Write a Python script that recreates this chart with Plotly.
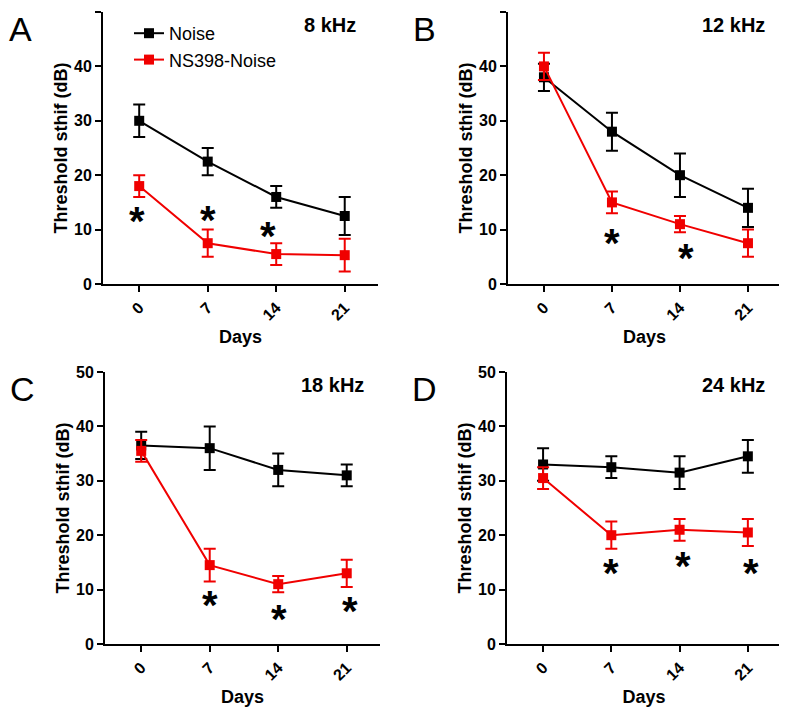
import plotly.graph_objects as go

days = [0, 7, 14, 21]
day_labels = ["0", "7", "14", "21"]
panel_letters = ["A", "B", "C", "D"]
freq_labels = ["8 kHz", "12 kHz", "18 kHz", "24 kHz"]
series_names = ["Noise", "NS398-Noise"]

# 8 kHz
noise_8 = [30, 22.5, 16, 12.5]
noise_8_err = [3, 2.5, 2, 3.5]
ns398_8 = [18, 7.5, 5.5, 5.3]
ns398_8_err = [2, 2.5, 2, 3]
star_8_x = [-0.2, 7.05, 13.2]
star_8_y = [13.0, 13.2, 10.3]

# 12 kHz
noise_12 = [38, 28, 20, 14]
noise_12_err = [2.5, 3.5, 4, 3.5]
ns398_12 = [40, 15, 11, 7.5]
ns398_12_err = [2.5, 2, 1.5, 2.5]
star_12_x = [7.0, 14.6]
star_12_y = [9.0, 6.2]

# 18 kHz
noise_18 = [36.5, 36, 32, 31]
noise_18_err = [2.5, 4, 3, 2]
ns398_18 = [35.5, 14.5, 11, 13]
ns398_18_err = [2, 3, 1.5, 2.5]
star_18_x = [7.0, 14.1, 21.3]
star_18_y = [8.7, 6.1, 7.5]

# 24 kHz
noise_24 = [33, 32.5, 31.5, 34.5]
noise_24_err = [3, 2, 3, 3]
ns398_24 = [30.5, 20, 21, 20.5]
ns398_24_err = [2, 2.5, 2, 2.5]
star_24_x = [7.0, 14.3, 21.3]
star_24_y = [14.5, 15.8, 14.5]

panels = [
    (noise_8, noise_8_err, ns398_8, ns398_8_err, star_8_x, star_8_y),
    (noise_12, noise_12_err, ns398_12, ns398_12_err, star_12_x, star_12_y),
    (noise_18, noise_18_err, ns398_18, ns398_18_err, star_18_x, star_18_y),
    (noise_24, noise_24_err, ns398_24, ns398_24_err, star_24_x, star_24_y),
]

OFF = 8  # page body margin
W, H = 787 - OFF, 713 - OFF
FONT = "Liberation Sans, Arial, sans-serif"
BLACK = "#000000"
RED = "#f00000"

def px(v):
    return (v - OFF) / W

def py(v):
    return 1 - (v - OFF) / H

# page-pixel boxes of each plot area: (left, right, top, bottom)
boxes = [(103, 378, 12, 284), (508, 781, 12, 284),
         (105, 380, 372, 644), (507, 781, 372, 644)]

fig = go.Figure()
layout = dict(
    width=W, height=H, margin=dict(l=0, r=0, t=0, b=0),
    paper_bgcolor="white", plot_bgcolor="white",
    font=dict(family=FONT, color="black"),
    showlegend=True,
    legend=dict(x=px(129), y=py(15), xanchor="left", yanchor="top",
                bgcolor="rgba(0,0,0,0)", font=dict(family=FONT, size=18),
                tracegroupgap=0, itemwidth=30),
)
annotations = []

for i, (nz, nze, ns, nse, sx, sy) in enumerate(panels):
    k = "" if i == 0 else str(i + 1)
    xa, ya = "x" + k, "y" + k
    l, r, t, b = boxes[i]
    for name, vals, errs, col in [(series_names[0], nz, nze, BLACK),
                                  (series_names[1], ns, nse, RED)]:
        fig.add_trace(go.Scatter(
            x=days, y=vals, name=name, mode="lines+markers",
            xaxis=xa, yaxis=ya, showlegend=(i == 0),
            line=dict(color=col, width=2),
            marker=dict(symbol="square", size=10, color=col),
            error_y=dict(type="data", array=errs, visible=True,
                         color=col, thickness=2, width=6),
            cliponaxis=False,
        ))
    layout["xaxis" + k] = dict(
        domain=[px(l), px(r)], anchor=ya, range=[-3.7, 24.4],
        tickvals=days, ticktext=day_labels, tickangle=-45,
        ticks="outside", ticklen=6, tickwidth=2, tickcolor="black",
        showline=True, linecolor="black", linewidth=2,
        showgrid=False, zeroline=False, automargin=False,
        tickfont=dict(family=FONT, size=16, color="black", weight="bold"),
        title=dict(text="<b>Days</b>", font=dict(family=FONT, size=18),
                   standoff=8),
    )
    layout["yaxis" + k] = dict(
        domain=[py(b), py(t)], anchor=xa, range=[0, 50],
        tickvals=[0, 10, 20, 30, 40, 50],
        ticks="outside", ticklen=6, tickwidth=2, tickcolor="black",
        showline=True, linecolor="black", linewidth=2,
        showgrid=False, zeroline=False, automargin=False,
        tickfont=dict(family=FONT, size=16, color="black", weight="bold"),
        title=dict(text="<b>Threshold sthif (dB)</b>",
                   font=dict(family=FONT, size=18), standoff=2),
    )
    for x0, y0 in zip(sx, sy):
        annotations.append(dict(
            x=x0, y=y0, xref=xa, yref=ya, text="<b>*</b>", showarrow=False,
            font=dict(family=FONT, size=40, color="black"),
            xanchor="center", yanchor="middle", yshift=-8,
        ))
    # panel letter
    annotations.append(dict(
        x=px(l - 83), y=py(t - 4), xref="paper", yref="paper",
        text=panel_letters[i], showarrow=False, xanchor="center", yanchor="top",
        font=dict(family=FONT, size=34, color="black"),
    ))
    annotations.append(dict(
        x=px(r - 48), y=py(t + 13), xref="paper", yref="paper",
        text="<b>" + freq_labels[i] + "</b>", showarrow=False,
        xanchor="center", yanchor="middle",
        font=dict(family=FONT, size=20, color="black"),
    ))

layout["annotations"] = annotations
fig.update_layout(**layout)
fig.write_html("out.html")
